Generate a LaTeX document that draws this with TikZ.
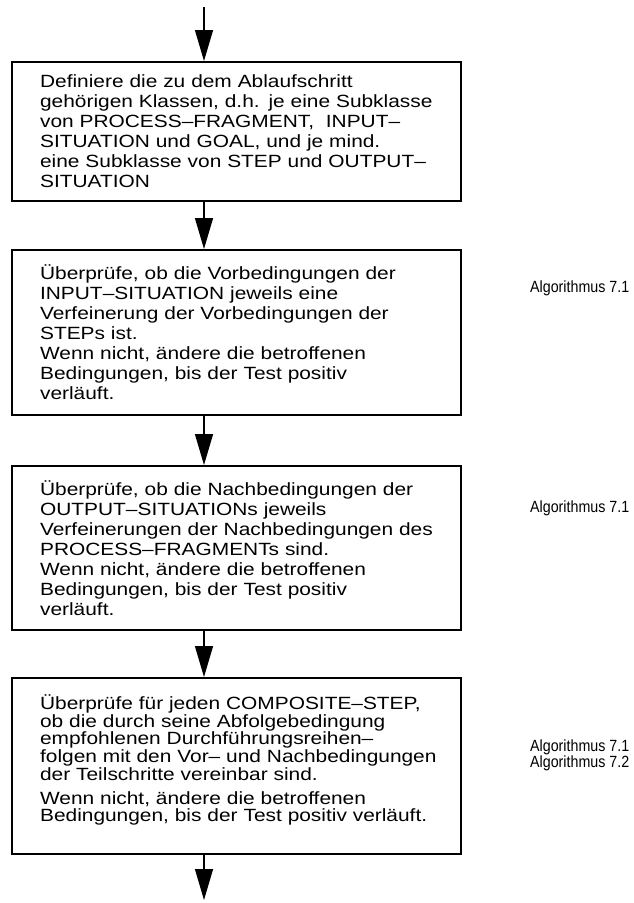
\documentclass[tikz,border=0pt]{standalone}
\usepackage{fontspec}
\setmainfont{Liberation Sans}
\newfontfamily\widesans[FakeStretch=1.18]{Liberation Sans}
\newfontfamily\narrowsans[FakeStretch=0.88]{Liberation Sans}
\usetikzlibrary{arrows.meta}

\tikzset{
  stepbox/.style={draw, line width=2.2pt, anchor=north west, align=left,
    minimum width=449pt, text width=393pt, inner xsep=28pt,
    font=\widesans\fontsize{17.7pt}{20pt}\selectfont},
  algo/.style={anchor=west, align=left, inner sep=0pt,
    font=\narrowsans\fontsize{16.2pt}{13pt}\selectfont},
  flow/.style={line width=1.4pt, -{Triangle[width=18pt,length=31pt]}}
}

\begin{document}
\begin{tikzpicture}[x=1pt, y=-1pt]
  \useasboundingbox (0,0) rectangle (634,903);

  % start and end of the flow
  \coordinate (start) at (204,7);
  \coordinate (stop) at (204,900);

  % the four steps
  \node[stepbox, minimum height=139pt] (def) at (11,61)
    {Definiere die zu dem Ablaufschritt\\
     gehörigen Klassen, d.h. je eine Subklasse\\
     von PROCESS–FRAGMENT,\ \ INPUT–\\
     SITUATION und GOAL, und je mind.\\
     eine Subklasse von STEP und OUTPUT–\\
     SITUATION};

  \node[stepbox, minimum height=165pt] (vor) at (11,249)
    {Überprüfe, ob die Vorbedingungen der\\
     INPUT–SITUATION jeweils eine\\
     Verfeinerung der Vorbedingungen der\\
     STEPs ist.\\
     Wenn nicht, ändere die betroffenen\\
     Bedingungen, bis der Test positiv\\
     verläuft.};

  \node[stepbox, minimum height=164pt] (nach) at (11,465)
    {Überprüfe, ob die Nachbedingungen der\\
     OUTPUT–SITUATIONs jeweils\\
     Verfeinerungen der Nachbedingungen des\\
     PROCESS–FRAGMENTs sind.\\
     Wenn nicht, ändere die betroffenen\\
     Bedingungen, bis der Test positiv\\
     verläuft.};

  % this one is set a little tighter, with a gap before the second part
  \node[stepbox, minimum height=176pt,
        font=\widesans\fontsize{17.7pt}{17.7pt}\selectfont] (comp) at (11,677)
    {Überprüfe für jeden COMPOSITE–STEP,\\
     ob die durch seine Abfolgebedingung\\
     empfohlenen Durchführungsreihen–\\
     \mbox{folgen mit den Vor– und Nachbedingungen}\\
     der Teilschritte vereinbar sind.\\[6pt]
     Wenn nicht, ändere die betroffenen\\
     Bedingungen, bis der Test positiv verläuft.\\[-2pt]\mbox{}};

  % references to the algorithms
  \node[algo] (algvor) at (530,288) {Algorithmus 7.1};
  \node[algo] (algnach) at (530,508) {Algorithmus 7.1};
  \node[algo] (algcomp) at (530,755) {Algorithmus 7.1\\Algorithmus 7.2};

  % arrows
  \draw[flow] (start) -- (start |- def.north);
  \draw[flow] (def.south -| start) -- (vor.north -| start);
  \draw[flow] (vor.south -| start) -- (nach.north -| start);
  \draw[flow] (nach.south -| start) -- (comp.north -| start);
  \draw[flow] (comp.south -| start) -- (stop);
\end{tikzpicture}
\end{document}
